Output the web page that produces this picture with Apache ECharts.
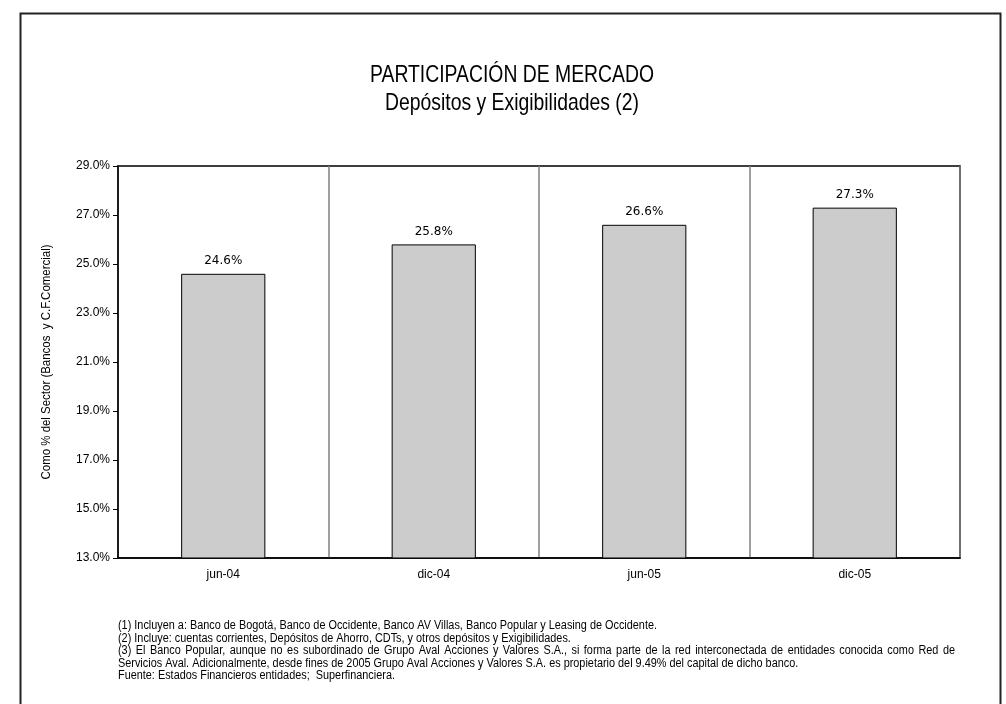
<!DOCTYPE html>
<html>
<head>
<meta charset="utf-8">
<style>
  html, body { margin: 0; padding: 0; background: #fff; }
  #chart { width: 1006px; height: 704px; }
</style>
<script src="https://cdn.jsdelivr.net/npm/echarts@6/dist/echarts.min.js"></script>
</head>
<body>
<div id="chart"></div>
<script>
// Market share of deposits, per semester
const categories = ['jun-04', 'dic-04', 'jun-05', 'dic-05'];
const shareValues = [24.6, 25.8, 26.6, 27.3];
const axisMin = 13, axisMax = 29, axisStep = 2;

const titleLines = ['PARTICIPACIÓN DE MERCADO', 'Depósitos y Exigibilidades (2)'];
const yAxisTitle = 'Como % del Sector (Bancos  y C.F.Comercial)';
const footnotes = [
  '(1) Incluyen a: Banco de Bogotá, Banco de Occidente, Banco AV Villas, Banco Popular y Leasing de Occidente.',
  '(2) Incluye: cuentas corrientes, Depósitos de Ahorro, CDTs, y otros depósitos y Exigibilidades.',
  '(3)   El Banco Popular, aunque no es subordinado de Grupo Aval Acciones y Valores S.A., si forma parte de la red interconectada de entidades conocida como Red de',
  'Servicios Aval. Adicionalmente, desde fines de 2005 Grupo Aval Acciones y Valores S.A. es propietario del 9.49% del capital de dicho banco.',
  'Fuente: Estados Financieros entidades;  Superfinanciera.'
];

const SANS = '"Liberation Sans", Arial, sans-serif';

// Condensed text: regular sans squeezed horizontally to a narrow face
const measureCtx = document.createElement('canvas').getContext('2d');
function textWidth(text, size) {
  measureCtx.font = size + 'px ' + SANS;
  return measureCtx.measureText(text).width;
}
function narrowText(text, x, y, size, scaleX, extra) {
  return Object.assign({
    type: 'text', x: x, y: y, scaleX: scaleX, silent: true,
    style: { text: text, fill: '#000', font: size + 'px ' + SANS, textVerticalAlign: 'middle' }
  }, extra || {});
}

const graphics = [];

// Title, two centred lines
const titleSize = 24;
const titleScale = 284 / textWidth(titleLines[0], titleSize);
titleLines.forEach((line, i) => {
  const g = narrowText(line, 512, 75 + i * 28.5, titleSize, titleScale);
  g.style.textAlign = 'center';
  graphics.push(g);
});

// Vertical axis title
const yNameSize = 12;
const yNameScale = 235 / textWidth(yAxisTitle, yNameSize);
const yName = narrowText(yAxisTitle, 47, 362, yNameSize, yNameScale, { rotation: Math.PI / 2 });
yName.style.textAlign = 'center';
graphics.push(yName);

// Footnotes; the paragraph's first line is justified across the box
const noteSize = 12.5;
const noteScale = 539 / textWidth(footnotes[0], noteSize);
footnotes.forEach((line, i) => {
  const y = 625.5 + i * 12.6;
  if (i === 2) {
    const words = line.split(/\s+/);
    const widths = words.map(w => textWidth(w, noteSize) * noteScale);
    const total = widths.reduce((a, b) => a + b, 0);
    const gap = (837 - total) / (words.length - 1);
    let x = 118;
    words.forEach((w, k) => {
      graphics.push(narrowText(w, x, y, noteSize, noteScale));
      x += widths[k] + gap;
    });
  } else {
    graphics.push(narrowText(line, 118, y, noteSize, noteScale));
  }
});

// Outer frame
graphics.push({
  type: 'rect', silent: true, z: 100,
  shape: { x: 20.5, y: 13.5, width: 980, height: 700 },
  style: { fill: 'none', stroke: '#222', lineWidth: 2 }
});

const chart = echarts.init(document.getElementById('chart'), null, { renderer: 'canvas' });

chart.setOption({
  backgroundColor: '#fff',
  animation: false,
  grid: {
    left: 118, right: 46, top: 166, bottom: 146,
    show: true, borderColor: '#000', borderWidth: 1.5, backgroundColor: 'transparent'
  },
  xAxis: {
    type: 'category',
    data: categories,
    boundaryGap: true,
    axisLine: { lineStyle: { color: '#000', width: 1.5 } },
    axisTick: { show: false },
    axisLabel: { color: '#000', fontFamily: SANS, fontSize: 12, margin: 11 },
    splitLine: { show: true, lineStyle: { color: '#808080', width: 1.5 } }
  },
  yAxis: {
    type: 'value',
    min: axisMin, max: axisMax, interval: axisStep,
    axisLine: { show: true, lineStyle: { color: '#000', width: 1.5 } },
    axisTick: { show: true, inside: false, length: 5, lineStyle: { color: '#000' } },
    axisLabel: {
      color: '#000', fontFamily: SANS, fontSize: 12, margin: 8,
      formatter: v => v.toFixed(1) + '%'
    },
    splitLine: { show: false }
  },
  series: [{
    type: 'bar',
    data: shareValues,
    barWidth: '40%',
    itemStyle: { color: '#cccccc', borderColor: '#000', borderWidth: 1 },
    label: {
      show: true, position: 'top', distance: 7,
      fontFamily: '"DejaVu Sans", Verdana, sans-serif', fontSize: 12, color: '#000',
      formatter: p => p.value.toFixed(1) + '%'
    }
  }],
  graphic: graphics
});
</script>
</body>
</html>
